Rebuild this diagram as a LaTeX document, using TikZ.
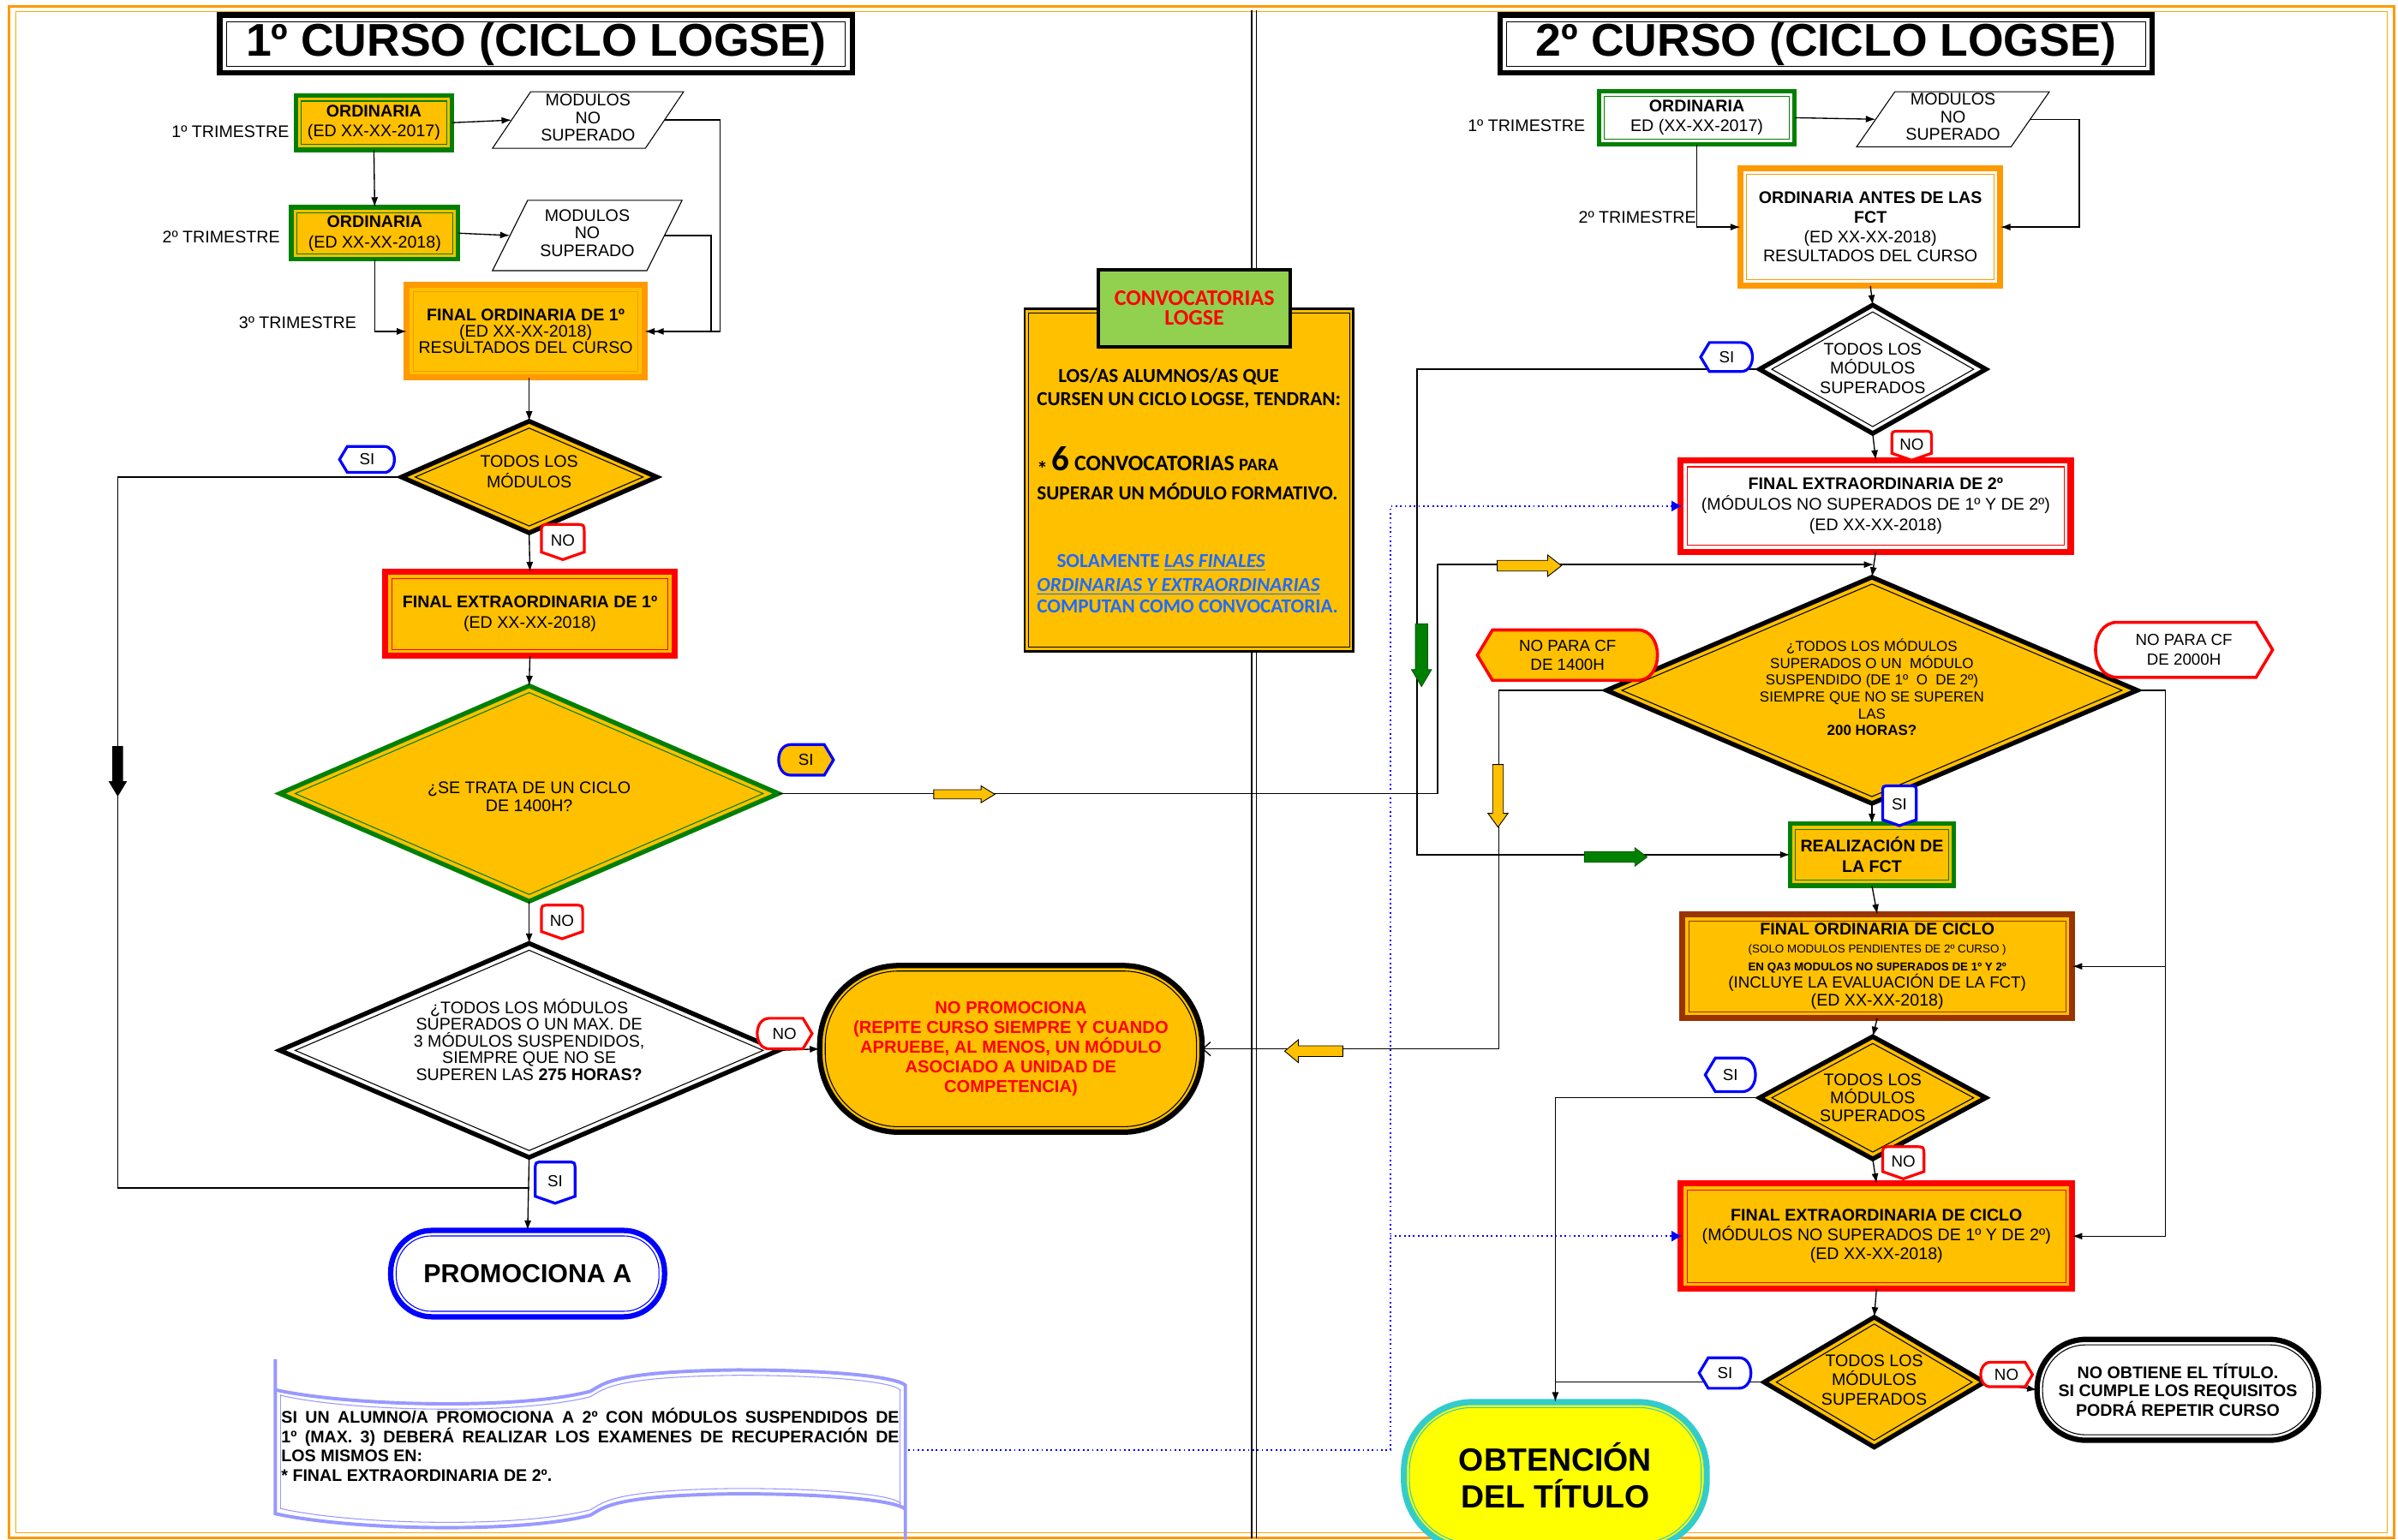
\documentclass[tikz,border=0pt]{standalone}
\usepackage{fontspec}
\setmainfont{Liberation Sans}
\newfontfamily\calib{Carlito}
\usetikzlibrary{shapes.geometric,arrows.meta,calc}
\definecolor{gold}{HTML}{FFC000}
\definecolor{borange}{HTML}{FF9900}
\definecolor{dgreen}{HTML}{008000}
\definecolor{brownb}{HTML}{993300}
\definecolor{lgreen}{HTML}{92D050}
\definecolor{cyanb}{HTML}{33CCCC}
\definecolor{yel}{HTML}{FFFF00}
\definecolor{lav}{HTML}{9999FF}
\definecolor{tblue}{HTML}{1F6BFF}
\newcommand{\fs}[2]{\fontsize{#1}{#2}\selectfont}
% tags: name, cx, cy, half width, half height, style, text
\newcommand{\tagL}[7]{%
\path[#6] ({#2-#4},{#3}) -- ({#2-#4+0.6*#5},{#3-#5}) -- ({#2+#4-0.8*#5},{#3-#5}) .. controls ({#2+#4+0.25*#5},{#3-#5}) and ({#2+#4+0.25*#5},{#3+#5}) .. ({#2+#4-0.8*#5},{#3+#5}) -- ({#2-#4+0.6*#5},{#3+#5}) -- cycle;
\node[tagtxt] (#1) at (#2,#3) {#7};}
\newcommand{\tagR}[7]{%
\path[#6] ({#2+#4},{#3}) -- ({#2+#4-0.6*#5},{#3-#5}) -- ({#2-#4+0.8*#5},{#3-#5}) .. controls ({#2-#4-0.25*#5},{#3-#5}) and ({#2-#4-0.25*#5},{#3+#5}) .. ({#2-#4+0.8*#5},{#3+#5}) -- ({#2+#4-0.6*#5},{#3+#5}) -- cycle;
\node[tagtxt] (#1) at (#2,#3) {#7};}
\newcommand{\tagD}[7]{%
\path[#6] ({#2},{#3+#5}) -- ({#2-#4},{#3+#5-0.35*#4}) -- ({#2-#4},{#3-#5+0.4*#4}) .. controls ({#2-#4},{#3-#5}) .. ({#2-#4+0.4*#4},{#3-#5}) -- ({#2+#4-0.4*#4},{#3-#5}) .. controls ({#2+#4},{#3-#5}) .. ({#2+#4},{#3-#5+0.4*#4}) -- ({#2+#4},{#3+#5-0.35*#4}) -- cycle;
\node[tagtxt] (#1) at (#2,{#3-1}) {#7};}
% parallelogram: name, cx, cy, half width (incl. slant), half height, slant, text
\newcommand{\parag}[7]{%
\draw[black, line width=0.6pt, fill=white] ({#2-#4},{#3+#5}) -- ({#2+#4-#6},{#3+#5}) -- ({#2+#4},{#3-#5}) -- ({#2-#4+#6},{#3-#5}) -- cycle;
\coordinate (#1-w) at ({#2-#4+#6/2},#3);
\coordinate (#1-e) at ({#2+#4-#6/2},#3);
\node[txt, font=\fs{11}{11.5}] (#1) at (#2,{#3-1.5}) {#7};}
% block arrow: cx, cy, angle, length, shaft half, head half, head length, style
\newcommand{\barrow}[8]{%
\path[#8, shift={(#1,#2)}, rotate=#3] ({-#4/2},{-#5}) -- ({#4/2-#7},{-#5}) -- ({#4/2-#7},{-#6}) -- ({#4/2},0) -- ({#4/2-#7},{#6}) -- ({#4/2-#7},{#5}) -- ({-#4/2},{#5}) -- cycle;}
\tikzset{
 conn/.style={draw=black, line width=0.75pt},
 arr/.style={-{Latex[length=6.5pt,width=4.5pt]}},
 dotl/.style={draw=blue, line width=1pt, dotted},
 box/.style={rectangle, inner sep=0pt, outer sep=0pt, align=center, font=\fs{11}{12.5}},
 txt/.style={inner sep=0pt, outer sep=0pt, align=center, font=\fs{11}{12.5}},
 lbl/.style={inner sep=0pt, outer sep=0pt, font=\fs{11}{12.5}},
 tagtxt/.style={inner sep=0pt, outer sep=0pt, align=center, font=\fs{10.5}{12.5}},
 cvt/.style={anchor=base west, inner sep=0pt, outer sep=0pt, font=\calib\bfseries\fs{13}{15}},
 bnt/.style={anchor=base west, inner sep=0pt, outer sep=0pt, font=\bfseries\fs{11}{13}},
 dblr/.style n args={3}{draw=#1, line width=#2, path picture={\draw[draw=#1, line width=0.6pt] ([shift={(#3,#3)}]path picture bounding box.south west) rectangle ([shift={(-#3,-#3)}]path picture bounding box.north east);}},
 dbld/.style n args={4}{shape=diamond, draw=#1, line width=#2, inner sep=0pt, outer sep=0pt, path picture={\draw[draw=#1, line width=0.6pt] ([yshift=-#3]path picture bounding box.north) -- ([xshift=-#4]path picture bounding box.east) -- ([yshift=#3]path picture bounding box.south) -- ([xshift=#4]path picture bounding box.west) -- cycle;}},
 dblo/.style n args={4}{draw=#1, line width=#2, rounded corners=#3, path picture={\draw[draw=#1, line width=0.6pt, rounded corners=#4] ([shift={(3.6pt,3.6pt)}]path picture bounding box.south west) rectangle ([shift={(-3.6pt,-3.6pt)}]path picture bounding box.north east);}},
 sit/.style={draw=blue, line width=1.8pt, fill=white},
 sity/.style={draw=blue, line width=1.8pt, fill=gold},
 not/.style={draw=red, line width=1.8pt, fill=white},
 yarr/.style={fill=gold, draw=black, line width=0.5pt},
 garr/.style={fill=dgreen, draw=dgreen!70!black, line width=0.5pt},
}
\begin{document}
\begin{tikzpicture}[x=1pt,y=-1pt]
\useasboundingbox (0,0) rectangle (1568,1007);
% frame and divider
\draw[borange, line width=1.8pt] (6,4) rectangle (1565.5,1006);
\draw[borange!60!gold, line width=0.8pt] (10.5,7.5) rectangle (1561,1002.5);
\draw[line width=0.7pt] (818.5,7) -- (818.5,1006);
\draw[line width=0.7pt] (821.5,7) -- (821.5,1006);
% titles
\node[box, dblr={black}{3.5pt}{4.5pt}, fill=white, minimum width=413.5pt, minimum height=38pt, font=\bfseries\fs{30}{32}] (title1) at (350.5,28.75) {1º CURSO (CICLO LOGSE)};
\node[box, dblr={black}{3.5pt}{4.5pt}, fill=white, minimum width=426.5pt, minimum height=38pt, font=\bfseries\fs{30}{32}] (title2) at (1194,28.75) {2º CURSO (CICLO LOGSE)};
% ---------- left column ----------
\node[lbl, anchor=east] (tri1) at (189,86) {1º TRIMESTRE};
\node[lbl, anchor=east] (tri2) at (183,155) {2º TRIMESTRE};
\node[lbl, anchor=east] (tri3) at (233,211) {3º TRIMESTRE};
\node[box, dblr={dgreen}{3pt}{3.6pt}, fill=gold, minimum width=102pt, minimum height=35.5pt, font=\fs{11}{12.5}] (ord1) at (244.5,80.25) {\textbf{ORDINARIA}\\(ED XX-XX-2017)};
\node[box, dblr={dgreen}{3pt}{3.6pt}, fill=gold, minimum width=109pt, minimum height=34pt, font=\fs{11}{13.5}] (ord2) at (245,152.5) {\textbf{ORDINARIA}\\(ED XX-XX-2018)};
\parag{mod1}{384.5}{78.5}{62.5}{18.5}{25}{MODULOS\\NO\\SUPERADO}
\parag{mod2}{384}{154}{62}{23}{23}{MODULOS\\NO\\SUPERADO}
\node[box, dblr={borange}{4pt}{4.2pt}, fill=gold, minimum width=155.5pt, minimum height=60.5pt, font=\fs{11}{10.5}] (fo1) at (343.75,216.75) {\textbf{FINAL ORDINARIA DE 1º}\\(ED XX-XX-2018)\\RESULTADOS DEL CURSO};
\node[dbld={black}{3pt}{4.5pt}{9pt}, fill=gold, minimum width=167pt, minimum height=73pt] (d1) at (346,312) {};
\node[txt, font=\fs{11}{13}] (d1t) at (346,308.5) {TODOS LOS\\MÓDULOS};
\node[box, dblr={red}{4pt}{4.3pt}, fill=gold, minimum width=189pt, minimum height=55pt, font=\fs{11}{13}] (fe1) at (346.5,401.5) {\textbf{FINAL EXTRAORDINARIA DE 1º}\\(ED XX-XX-2018)};
\node[dbld={dgreen}{3pt}{4.5pt}{10pt}, fill=gold, minimum width=326pt, minimum height=141pt] (d2) at (346,519) {};
\node[txt, font=\fs{11}{12}] (d2t) at (346,521) {¿SE TRATA DE UN CICLO\\DE 1400H?};
\node[dbld={black}{3pt}{4.5pt}{10pt}, fill=white, minimum width=326pt, minimum height=140pt] (d3) at (346,687) {};
\node[txt, font=\fs{11}{11}] (d3t) at (346,680) {¿TODOS LOS MÓDULOS\\SUPERADOS O UN MAX. DE\\3 MÓDULOS SUSPENDIDOS,\\SIEMPRE QUE NO SE\\SUPEREN LAS \textbf{275 HORAS?}};
\node[box, dblo={black}{3.5pt}{52pt}{48pt}, fill=gold, minimum width=250pt, minimum height=109pt, font=\bfseries\fs{11.3}{13}, text=red] (np) at (661,686) {NO PROMOCIONA\\(REPITE CURSO SIEMPRE Y CUANDO\\APRUEBE, AL MENOS, UN MÓDULO\\ASOCIADO A UNIDAD DE\\COMPETENCIA)};
\node[box, dblo={blue}{3.5pt}{27pt}{23pt}, fill=white, minimum width=179pt, minimum height=56.5pt, font=\bfseries\fs{17}{20}] (promo) at (345,833) {PROMOCIONA A};
% banner
\draw[lav, line width=2.2pt] (180,889) -- (180,990) .. controls (230,1001) and (340,1003) .. (386,991) .. controls (395,986) and (400,978) .. (482,977) .. controls (540,977) and (585,981) .. (592,987);
\draw[lav, line width=2.2pt] (180,909) .. controls (230,920) and (340,922) .. (386,910) .. controls (395,905) and (400,897) .. (482,896) .. controls (540,896) and (585,900) .. (592,906) -- (592,1007);
\draw[lav, line width=0.6pt, yshift=-3.5pt] (183,909) .. controls (230,920) and (340,922) .. (386,910) .. controls (395,905) and (400,897) .. (482,896) .. controls (540,896) and (585,900) .. (589,906);
\draw[lav, line width=0.6pt, yshift=3.5pt] (183,990) .. controls (230,1001) and (340,1003) .. (386,991) .. controls (395,986) and (400,978) .. (482,977) .. controls (540,977) and (585,981) .. (589,987);
\draw[lav, line width=0.6pt] (183.5,912) -- (183.5,987);
\draw[lav, line width=0.6pt] (588.5,909) -- (588.5,984);
\node[bnt] (bt1) at (184,930.5) {\makebox[404pt][s]{SI UN ALUMNO/A PROMOCIONA A 2º CON MÓDULOS SUSPENDIDOS DE}};
\node[bnt] (bt2) at (184,943.5) {\makebox[404pt][s]{1º (MAX. 3) DEBERÁ REALIZAR LOS EXAMENES DE RECUPERACIÓN DE}};
\node[bnt] (bt3) at (184,956) {LOS MISMOS EN:};
\node[bnt] (bt4) at (184,969) {* FINAL EXTRAORDINARIA DE 2º.};
% convocatorias
\node[box, dblr={black}{1.6pt}{2.6pt}, fill=gold, minimum width=215pt, minimum height=224pt] (conv) at (777.5,314) {};
\node[box, draw=black, line width=2.2pt, fill=lgreen, minimum width=125.5pt, minimum height=50.5pt, font=\calib\bfseries\fs{14.5}{13}, text=red] (convh) at (781,201.5) {CONVOCATORIAS\\LOGSE};
\node[cvt] (cv1) at (692,250) {LOS/AS ALUMNOS/AS QUE};
\node[cvt] (cv2) at (678,265.5) {CURSEN UN CICLO LOGSE, TENDRAN:};
\node[cvt] (cv3) at (678,308) {{\fs{14}{14}\raisebox{-3.5pt}{*}} {\fs{23}{24}6} {\fs{14.5}{16}CONVOCATORIAS} {\fs{11.5}{12}PARA}};
\node[cvt] (cv4) at (678,327) {SUPERAR UN MÓDULO FORMATIVO.};
\node[cvt, text=tblue] (cv5) at (691,371) {SOLAMENTE \underline{\textit{LAS FINALES}}};
\node[cvt, text=tblue] (cv6) at (678,387) {\underline{\textit{ORDINARIAS Y EXTRAORDINARIAS}}};
\node[cvt, text=tblue] (cv7) at (678,401) {COMPUTAN COMO CONVOCATORIA.};
% ---------- right column ----------
\node[lbl, anchor=east] (triR1) at (1036.5,82) {1º TRIMESTRE};
\node[lbl, anchor=east] (triR2) at (1109,142) {2º TRIMESTRE};
\node[box, dblr={dgreen}{3pt}{3.6pt}, fill=white, minimum width=128pt, minimum height=35pt, font=\fs{11}{13}] (ordR1) at (1109.5,77) {\textbf{ORDINARIA}\\ED (XX-XX-2017)};
\parag{modR}{1277}{78}{63}{18}{25}{MODULOS\\NO\\SUPERADO}
\node[box, dblr={borange}{4pt}{4.2pt}, fill=white, minimum width=170pt, minimum height=77pt, font=\fs{11}{12.7}] (oaf) at (1223,148.5) {\textbf{ORDINARIA ANTES DE LAS}\\\textbf{FCT}\\(ED XX-XX-2018)\\RESULTADOS DEL CURSO};
\node[dbld={black}{3pt}{4.5pt}{8pt}, fill=white, minimum width=148pt, minimum height=84pt] (dR1) at (1224.5,241.5) {};
\node[txt, font=\fs{11}{12.5}] (dR1t) at (1224.5,241) {TODOS LOS\\MÓDULOS\\SUPERADOS};
\node[box, dblr={red}{4pt}{4.3pt}, fill=white, minimum width=255pt, minimum height=60pt, font=\fs{11}{13.5}] (fe2) at (1226.5,331) {\textbf{FINAL EXTRAORDINARIA DE 2º}\\(MÓDULOS NO SUPERADOS DE 1º Y DE 2º)\\(ED XX-XX-2018)};
\node[dbld={black}{3pt}{4.5pt}{10pt}, fill=gold, minimum width=347pt, minimum height=148pt] (bigD) at (1224,451.5) {};
\node[txt, font=\fs{9.5}{11}] (bigDt) at (1224,449.5) {¿TODOS LOS MÓDULOS\\SUPERADOS O UN\ \ MÓDULO\\SUSPENDIDO (DE 1º\ \ O\ \ DE 2º)\\SIEMPRE QUE NO SE SUPEREN\\LAS\\\textbf{200 HORAS?}};
\node[box, dblr={dgreen}{3pt}{3.6pt}, fill=gold, minimum width=107pt, minimum height=40.5pt, font=\bfseries\fs{11}{13}] (real) at (1224,559) {REALIZACIÓN DE\\LA FCT};
\node[box, dblr={brownb}{4pt}{4.3pt}, fill=gold, minimum width=255pt, minimum height=68pt, font=\fs{11}{11.5}] (foc) at (1227.5,632) {\textbf{FINAL ORDINARIA DE CICLO}\\{\fs{7.5}{9}(SOLO MODULOS PENDIENTES DE 2º CURSO )}\\{\fs{7.5}{9}\textbf{EN QA3 MODULOS NO SUPERADOS DE 1º Y 2º}}\\{\fs{10.5}{12}(INCLUYE LA EVALUACIÓN DE LA FCT)}\\(ED XX-XX-2018)};
\node[dbld={black}{3pt}{4.5pt}{8pt}, fill=gold, minimum width=148pt, minimum height=80pt] (dR3) at (1224.5,718) {};
\node[txt, font=\fs{11}{12}] (dR3t) at (1224.5,718) {TODOS LOS\\MÓDULOS\\SUPERADOS};
\node[box, dblr={red}{4pt}{4.3pt}, fill=gold, minimum width=256pt, minimum height=69pt, font=\fs{11}{12.7}] (fec) at (1227,808.5) {\textbf{FINAL EXTRAORDINARIA DE CICLO}\\(MÓDULOS NO SUPERADOS DE 1º Y DE 2º)\\(ED XX-XX-2018)};
\node[dbld={black}{3pt}{4.5pt}{8pt}, fill=gold, minimum width=144pt, minimum height=85pt] (dR4) at (1225.5,904) {};
\node[txt, font=\fs{11}{12.5}] (dR4t) at (1225.5,902.5) {TODOS LOS\\MÓDULOS\\SUPERADOS};
\node[box, dblo={black}{3.5pt}{32pt}{28pt}, fill=white, minimum width=184pt, minimum height=66pt, font=\bfseries\fs{11}{11.5}] (nob) at (1424,909) {NO OBTIENE EL TÍTULO.\\SI CUMPLE LOS REQUISITOS\\PODRÁ REPETIR CURSO};
\node[box, dblo={cyanb}{4pt}{45pt}{41pt}, fill=yel, minimum width=198pt, minimum height=96pt, font=\bfseries\fs{21}{24.5}] (obt) at (1017,965) {OBTENCIÓN\\DEL TÍTULO};
% ---------- helper coordinates ----------
\coordinate (cA) at (471,0);
\coordinate (cB) at (465,0);
\coordinate (lj) at (77,777);
\coordinate (c940) at (940,369);
\coordinate (m1) at ($(fe2.south)!0.5!(bigD.north)$);
\coordinate (c980) at (980,0);
\coordinate (cR) at (1359.5,0);
\coordinate (c926) at (926.5,0);
\coordinate (c1416) at (1416,0);
\coordinate (c909) at (909,0);
\coordinate (bannerR) at (594,948.5);
% ---------- connectors left ----------
\draw[conn,arr] (ord1.east) -- (mod1-w);
\draw[conn,arr] (mod1-e) -| (cA |- fo1.east) -- (fo1.east);
\draw[conn,arr] (mod2-e) -| (cB |- fo1.east) -- ([xshift=6pt]fo1.east);
\draw[conn,arr] (ord1.south) -- (ord2.north);
\draw[conn,arr] (ord2.east) -- (mod2-w);
\draw[conn,arr] (ord2.south) |- (fo1.west);
\draw[conn,arr] (d1.north |- fo1.south) -- (d1.north);
\draw[conn] (d1.west) -| (lj) -- (d3.south |- lj);
\draw[conn,arr] (d1.south) -- (fe1.north);
\draw[conn,arr] (fe1.south) -- (d2.north);
\draw[conn,arr] (d2.east) -| (c940) |- (m1);
\draw[conn,arr] (d2.south) -- (d3.north);
\draw[conn,arr] (d3.east) -- (np.west);
\draw[conn,arr] (d3.south) -- (promo.north);
\draw[conn,-{Straight Barb[length=5pt,width=9pt]}] (bigD.west) -| (c980 |- np.east) -- (np.east);
% ---------- connectors right ----------
\draw[conn,arr] (ordR1.east) -- (modR-w);
\draw[conn,arr] (modR-e) -| (cR |- oaf.east) -- (oaf.east);
\draw[conn,arr] (ordR1.south) |- (oaf.west);
\draw[conn,arr] (oaf.south) -- (dR1.north);
\draw[conn,arr] (dR1.west) -| (c926 |- real.west) -- (real.west);
\draw[conn,arr] (dR1.south) -- (fe2.north);
\draw[conn,arr] (fe2.south) -- (bigD.north);
\draw[conn,arr] (bigD.south) -- (real.north);
\draw[conn,arr] (real.south) -- (foc.north);
\draw[conn,arr] (foc.south) -- (dR3.north);
\draw[conn,arr] (dR3.west) -| (obt.north);
\draw[conn,arr] (dR3.south) -- (fec.north);
\draw[conn,arr] (fec.south) -- (dR4.north);
\draw[conn] (dR4.west) -- (obt.north |- dR4.west);
\draw[conn,arr] (dR4.east) -- (nob.west);
\draw[conn,arr] (bigD.east) -| (c1416 |- fec.east) -- (fec.east);
\draw[conn,arr] (c1416 |- foc.east) -- (foc.east);
\draw[dotl] (bannerR) -| (c909 |- fe2.west) -- (fe2.west);
\fill[blue] (fe2.west) -- ++(-6,-3.5) -- ++(0,7) -- cycle;
\draw[dotl] (c909 |- fec.west) -- (fec.west);
\fill[blue] (fec.west) -- ++(-6,-3.5) -- ++(0,7) -- cycle;
% ---------- block arrows ----------
\barrow{630.5}{519.5}{0}{40}{3}{5.5}{9}{yarr}
\barrow{1000}{370}{0}{42}{3.5}{7}{9}{yarr}
\barrow{859}{687.5}{180}{38}{3.5}{7.5}{9}{yarr}
\barrow{979.5}{520.5}{-90}{41}{3.5}{6.5}{9}{yarr}
\barrow{929.5}{428.5}{-90}{41}{4}{6.5}{11}{garr}
\barrow{1056.5}{560.5}{0}{41}{3.5}{6}{8}{garr}
\barrow{77}{504.5}{-90}{33}{3.5}{6}{10}{fill=black}
% ---------- tags ----------
\tagL{si1}{240}{300.5}{18}{8.5}{sit}{SI}
\tagD{no1}{368}{354.5}{14}{11.5}{not}{NO}
\tagR{si2}{527}{497}{18}{10}{sity}{SI}
\tagD{no2}{367.5}{603}{13.5}{11}{not}{NO}
\tagR{no3}{513}{676}{18}{10}{not}{NO}
\tagD{si3}{363}{773.5}{13}{13.5}{sit}{SI}
\tagL{siR1}{1129}{233.5}{17}{9.5}{sit}{SI}
\tagD{noR1}{1250}{291.5}{13}{9.5}{not}{NO}
\tagL{t1400}{1025}{428.5}{59}{16.5}{draw=red, line width=2pt, fill=gold}{NO PARA CF\\DE 1400H}
\tagR{t2000}{1428}{425}{58}{18}{draw=red, line width=2pt, fill=white}{NO PARA CF\\DE 2000H}
\tagD{siR2}{1242}{527}{11}{13}{sit}{SI}
\tagL{siR3}{1131.5}{703}{16.5}{11}{sit}{SI}
\tagD{noR3}{1244.5}{760.5}{13.5}{10.5}{not}{NO}
\tagL{siR4}{1128}{898}{17}{10}{sit}{SI}
\tagR{noR4}{1312}{899}{17}{8}{not}{NO}
\end{tikzpicture}
\end{document}
